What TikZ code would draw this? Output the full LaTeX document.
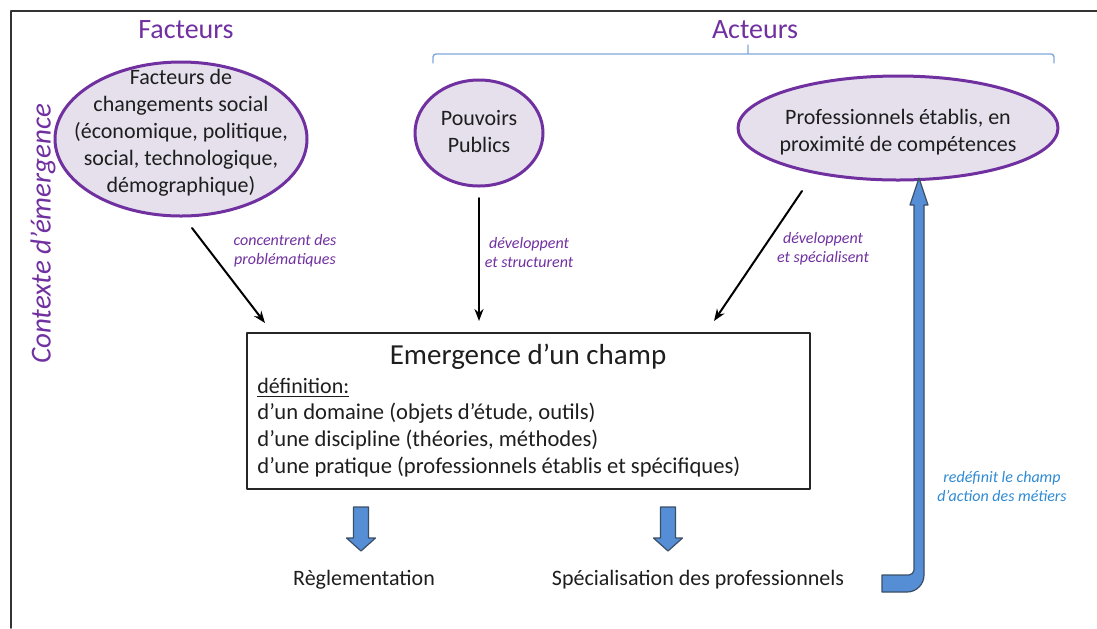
\documentclass[tikz,border=0pt]{standalone}
\usepackage{fontspec}
\setmainfont{Carlito}
\usetikzlibrary{shapes.geometric,positioning,arrows.meta}
\definecolor{mauve}{HTML}{7030A0}
\definecolor{lavande}{HTML}{E5E0EC}
\definecolor{bleuf}{HTML}{558ED5}
\definecolor{bleud}{HTML}{3A4F66}
\definecolor{bleuc}{HTML}{7FA8DC}
\definecolor{bleut}{HTML}{2F8AD2}
\definecolor{encre}{HTML}{1E1E1E}
\begin{document}
\begin{tikzpicture}[x=0.5pt,y=-0.5pt,>={Stealth[length=6pt,width=4.5pt]},line join=round,line cap=round,
	ovale/.style={ellipse,draw=mauve,fill=lavande,line width=1.5pt,inner sep=0pt},
	corps/.style={align=center,inner sep=0pt,text=encre,font=\fontsize{11}{13.5}\selectfont},
	titre/.style={text=mauve,font=\fontsize{14}{16}\selectfont},
	verbe/.style={text=mauve,align=center,font=\fontsize{8}{9.5}\selectfont\itshape},
	fleche/.style={->,line width=1pt},
	bloc/.style={fill=bleuf,draw=bleud,line width=0.6pt}]
	\useasboundingbox (0,0) rectangle (1097,628);
	% cadre
	\draw[line width=0.8pt,black!80] (1097,11)--(11,11)--(11,628);
	% titres
	\node[titre] (facteurs) at (186,30) {Facteurs};
	\node[titre] (acteurs) at (755,30) {Acteurs};
	\node[titre,rotate=90,font=\fontsize{14.5}{16}\selectfont\itshape] (contexte) at (43,234) {Contexte d’émergence};
	\draw[bleuc,line width=0.7pt,rounded corners=1.5pt] (433,63)--(433,54)--(1054,54)--(1054,63) (748,54)--(748,45);
	% les bulles
	\node[ovale,minimum width=126pt,minimum height=77pt] (fac) at (181,139) {};
	\node[corps] (factxt) at (181,133) {Facteurs de\\changements social\\(économique, politique,\\social, technologique,\\démographique)};
	\node[ovale,minimum width=64pt,minimum height=53pt] (pouv) at (479,133) {};
	\node[corps] (pouvtxt) at (479,132) {Pouvoirs\\Publics};
	\node[ovale,minimum width=160pt,minimum height=52pt] (prof) at (898,128) {};
	\node[corps] (proftxt) at (898,132) {Professionnels établis, en\\proximité de compétences};
	% le champ
	\node[draw=black!85,line width=0.6pt,minimum width=281.5pt,minimum height=78pt] (champ) at (528.5,411) {};
	\node[text=encre,font=\fontsize{14.5}{16}\selectfont] (titrechamp) at (528,357) {Emergence d’un champ};
	\node[corps,anchor=west] (def) at (257,388) {\underline{définition:}};
	\node[corps,align=left,anchor=north west,font=\fontsize{11.3}{13.5}\selectfont] (liste) at (257,403) {d’un domaine (objets d’étude, outils)\\d’une discipline (théories, méthodes)\\d’une pratique (professionnels établis et spécifiques)};
	% fleches noires
	\path
	(192,228) coordinate (d1) (265,323) coordinate (f1)
	(479,198) coordinate (d2) (479,321) coordinate (f2)
	(802,191) coordinate (d3) (714,321) coordinate (f3);
	\draw[fleche] (d1)--(f1);
	\draw[fleche] (d2)--(f2);
	\draw[fleche] (d3)--(f3);
	\node[verbe] (v1) at (285,251) {concentrent des\\problématiques};
	\node[verbe] (v2) at (529,252) {développent\\et structurent};
	\node[verbe] (v3) at (823,249) {développent\\et spécialisent};
	% consequences
	\foreach \x in {361,668}
	\draw[bloc] ({\x-7.5},507)--({\x+7.5},507)--({\x+7.5},538)--({\x+14.5},538)--(\x,551)--({\x-14.5},538)--({\x-7.5},538)--cycle;
	\node[corps] (regl) at (364,580) {Règlementation};
	\node[corps] (spec) at (698,580) {Spécialisation des professionnels};
	% retour vers les professionnels
	\draw[bloc] (882,575)--(909,575) .. controls (911.8,575) and (914,572.2) .. (914,570)
	--(914,205)--(910,205)--(919,178)--(928,205)--(924,205)--(924,575)
	.. controls (924,584.4) and (916.4,592) .. (907,592)--(882,592)--cycle;
	\node[verbe,text=bleut] (v4) at (1002,486) {redéfinit le champ\\d’action des métiers};
\end{tikzpicture}
\end{document}
